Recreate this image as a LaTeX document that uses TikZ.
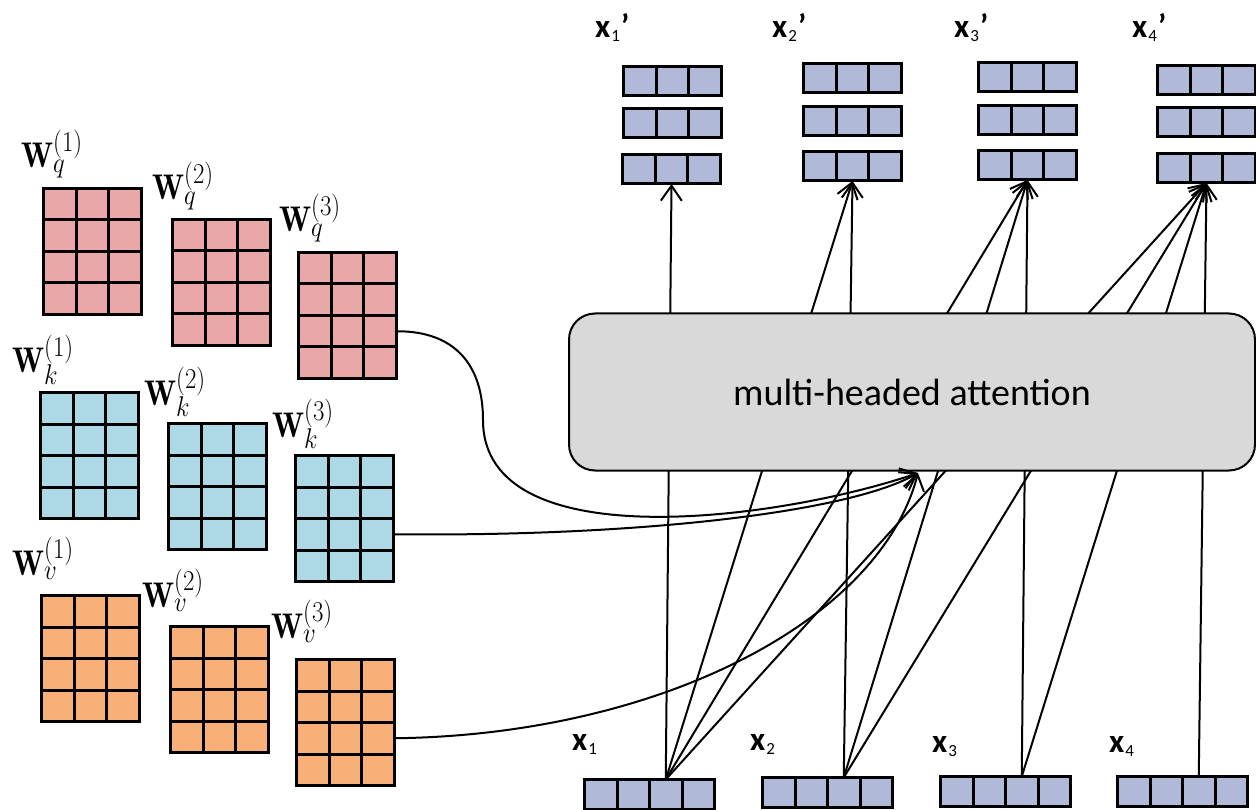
\documentclass[tikz,border=0pt]{standalone}
\usepackage{fontspec}
\usepackage{graphicx}
\newfontfamily\labfont{Carlito}
\usetikzlibrary{arrows.meta,calc}
\DeclareMathSizes{31}{31}{25}{19}
\definecolor{qpink}{RGB}{233,167,168}
\definecolor{kblue}{RGB}{173,216,230}
\definecolor{vorange}{RGB}{248,175,120}
\definecolor{vecblue}{RGB}{176,185,216}
\definecolor{boxgray}{RGB}{217,217,217}
\tikzset{
  mat/.style={draw=black, line width=3pt, inner sep=0pt, outer sep=0pt, anchor=north west, minimum width=98pt, minimum height=126pt},
  gridln/.style={line width=3pt},
  ovecst/.style={draw=black, fill=vecblue, line width=3pt, inner sep=0pt, outer sep=0pt, anchor=north west, minimum width=98pt, minimum height=29.5pt},
  ivecst/.style={draw=black, fill=vecblue, line width=3pt, inner sep=0pt, outer sep=0pt, anchor=north west, minimum width=130pt, minimum height=29.5pt},
  conn/.style={line width=2pt, -{Straight Barb[length=15pt,width=21pt,line width=2pt]}},
  wlab/.style={anchor=base west, inner sep=0pt, font=\fontsize{31}{38}\selectfont},
  xlab/.style={anchor=base west, inner sep=0pt, font=\labfont\fontsize{33}{38}\selectfont},
  attn/.style={draw=black, line width=2pt, fill=boxgray, rounded corners=26pt, minimum width=686pt, minimum height=157pt, inner sep=0pt, font=\labfont\fontsize{38}{44}\selectfont},
}
\newcommand\wmat[4]{%
  \node[mat, fill=#4] (#1) at (#2,#3) {};
  \foreach \c in {1,2} \draw[gridln] ($(#1.north west)+(\c*32.67,0)$) -- ($(#1.south west)+(\c*32.67,0)$);
  \foreach \r in {1,2,3} \draw[gridln] ($(#1.north west)+(0,\r*31.5)$) -- ($(#1.north east)+(0,\r*31.5)$);
}
\newcommand\ovec[3]{%
  \node[ovecst] (#1) at (#2,#3) {};
  \foreach \c in {1,2} \draw[gridln] ($(#1.north west)+(\c*32.67,0)$) -- ($(#1.south west)+(\c*32.67,0)$);
}
\newcommand\ivec[3]{%
  \node[ivecst] (#1) at (#2,#3) {};
  \foreach \c in {1,2,3} \draw[gridln] ($(#1.north west)+(\c*32.5,0)$) -- ($(#1.south west)+(\c*32.5,0)$);
}
\newcommand\xsub[2]{\textbf{x}\kern1pt\raisebox{-4pt}{\fontsize{17}{17}\selectfont #1}\kern1pt#2}
\newcommand\wl[2]{\scalebox{1}[1.15]{$\mathbf{W}_{#1}^{(#2)}$}}
\begin{document}
\begin{tikzpicture}[x=1pt,y=-1pt]
\fill[white] (0,0) rectangle (1256,810);
\useasboundingbox (0,0) rectangle (1256,810);

% weight matrices
\wmat{wq1}{43.5}{188.5}{qpink}
\wmat{wq2}{172.5}{219.5}{qpink}
\wmat{wq3}{298.5}{252.5}{qpink}
\wmat{wk1}{40.5}{392.5}{kblue}
\wmat{wk2}{168.5}{423.5}{kblue}
\wmat{wk3}{295.5}{455.5}{kblue}
\wmat{wv1}{41.5}{595.5}{vorange}
\wmat{wv2}{170.5}{626.5}{vorange}
\wmat{wv3}{296.5}{659.5}{vorange}

\node[wlab] (lq1) at (21,168) {\wl{q}{1}};
\node[wlab] (lq2) at (152,200) {\wl{q}{2}};
\node[wlab] (lq3) at (279,232) {\wl{q}{3}};
\node[wlab] (lk1) at (12,373) {\wl{k}{1}};
\node[wlab] (lk2) at (144,405) {\wl{k}{2}};
\node[wlab] (lk3) at (272,437) {\wl{k}{3}};
\node[wlab] (lv1) at (12,575) {\wl{v}{1}};
\node[wlab] (lv2) at (142,607) {\wl{v}{2}};
\node[wlab] (lv3) at (271,638) {\wl{v}{3}};

% output vectors
\ovec{o1a}{623.5}{66.5}\ovec{o1b}{623.5}{108.5}\ovec{o1c}{622.5}{154.5}
\ovec{o2a}{803.5}{63.5}\ovec{o2b}{803.5}{106.5}\ovec{o2c}{803.5}{151.5}
\ovec{o3a}{978.5}{62.5}\ovec{o3b}{978.5}{105.5}\ovec{o3c}{978.5}{150.5}
\ovec{o4a}{1157.5}{65.5}\ovec{o4b}{1157.5}{107.5}\ovec{o4c}{1157.5}{153.5}

\node[xlab] (lo1) at (595,38) {\xsub{1}{\textbf{’}}};
\node[xlab] (lo2) at (772,38) {\xsub{2}{\textbf{’}}};
\node[xlab] (lo3) at (954,38) {\xsub{3}{\textbf{’}}};
\node[xlab] (lo4) at (1132,38) {\xsub{4}{\textbf{’}}};

% input vectors
\ivec{x1v}{584.5}{779.5}
\ivec{x2v}{762.5}{777.5}
\ivec{x3v}{940.5}{776.5}
\ivec{x4v}{1117.5}{776.5}
\coordinate (in1) at ($(x1v.north west)+(2.5*32.5,0)$);
\coordinate (in2) at ($(x2v.north west)+(2.5*32.5,0)$);
\coordinate (in3) at ($(x3v.north west)+(2.5*32.5,0)$);
\coordinate (in4) at ($(x4v.north west)+(2.5*32.5,0)$);

\node[xlab] (li1) at (572,750) {\xsub{1}{}};
\node[xlab] (li2) at (750,750) {\xsub{2}{}};
\node[xlab] (li3) at (932,752) {\xsub{3}{}};
\node[xlab] (li4) at (1109,752) {\xsub{4}{}};

% attention connections (behind the box)
\draw[conn] (in1) -- (o1c.south);
\draw[conn] (in1) -- (o2c.south);
\draw[conn] (in1) -- (o3c.south);
\draw[conn] (in1) -- (o4c.south);
\draw[conn] (in2) -- (o2c.south);
\draw[conn] (in2) -- (o3c.south);
\draw[conn] (in2) -- (o4c.south);
\draw[conn] (in3) -- (o3c.south);
\draw[conn] (in3) -- (o4c.south);
\draw[conn] (in4) -- (o4c.south);

% attention box
\node[attn] (mha) at (912,392) {multi-headed attention};

% weight connections
\coordinate (hit) at (918,473);
\draw[conn] ($(wq3.north east)!0.625!(wq3.south east)$) .. controls (455,331) and (483,365) .. (483,420) .. controls (483,560) and (780,520) .. (hit);
\draw[conn] ($(wk3.north east)!0.625!(wk3.south east)$) .. controls (640,537) and (850,512) .. (hit);
\draw[conn] ($(wv3.north east)!0.625!(wv3.south east)$) .. controls (660,735) and (880,620) .. (hit);
\end{tikzpicture}
\end{document}
